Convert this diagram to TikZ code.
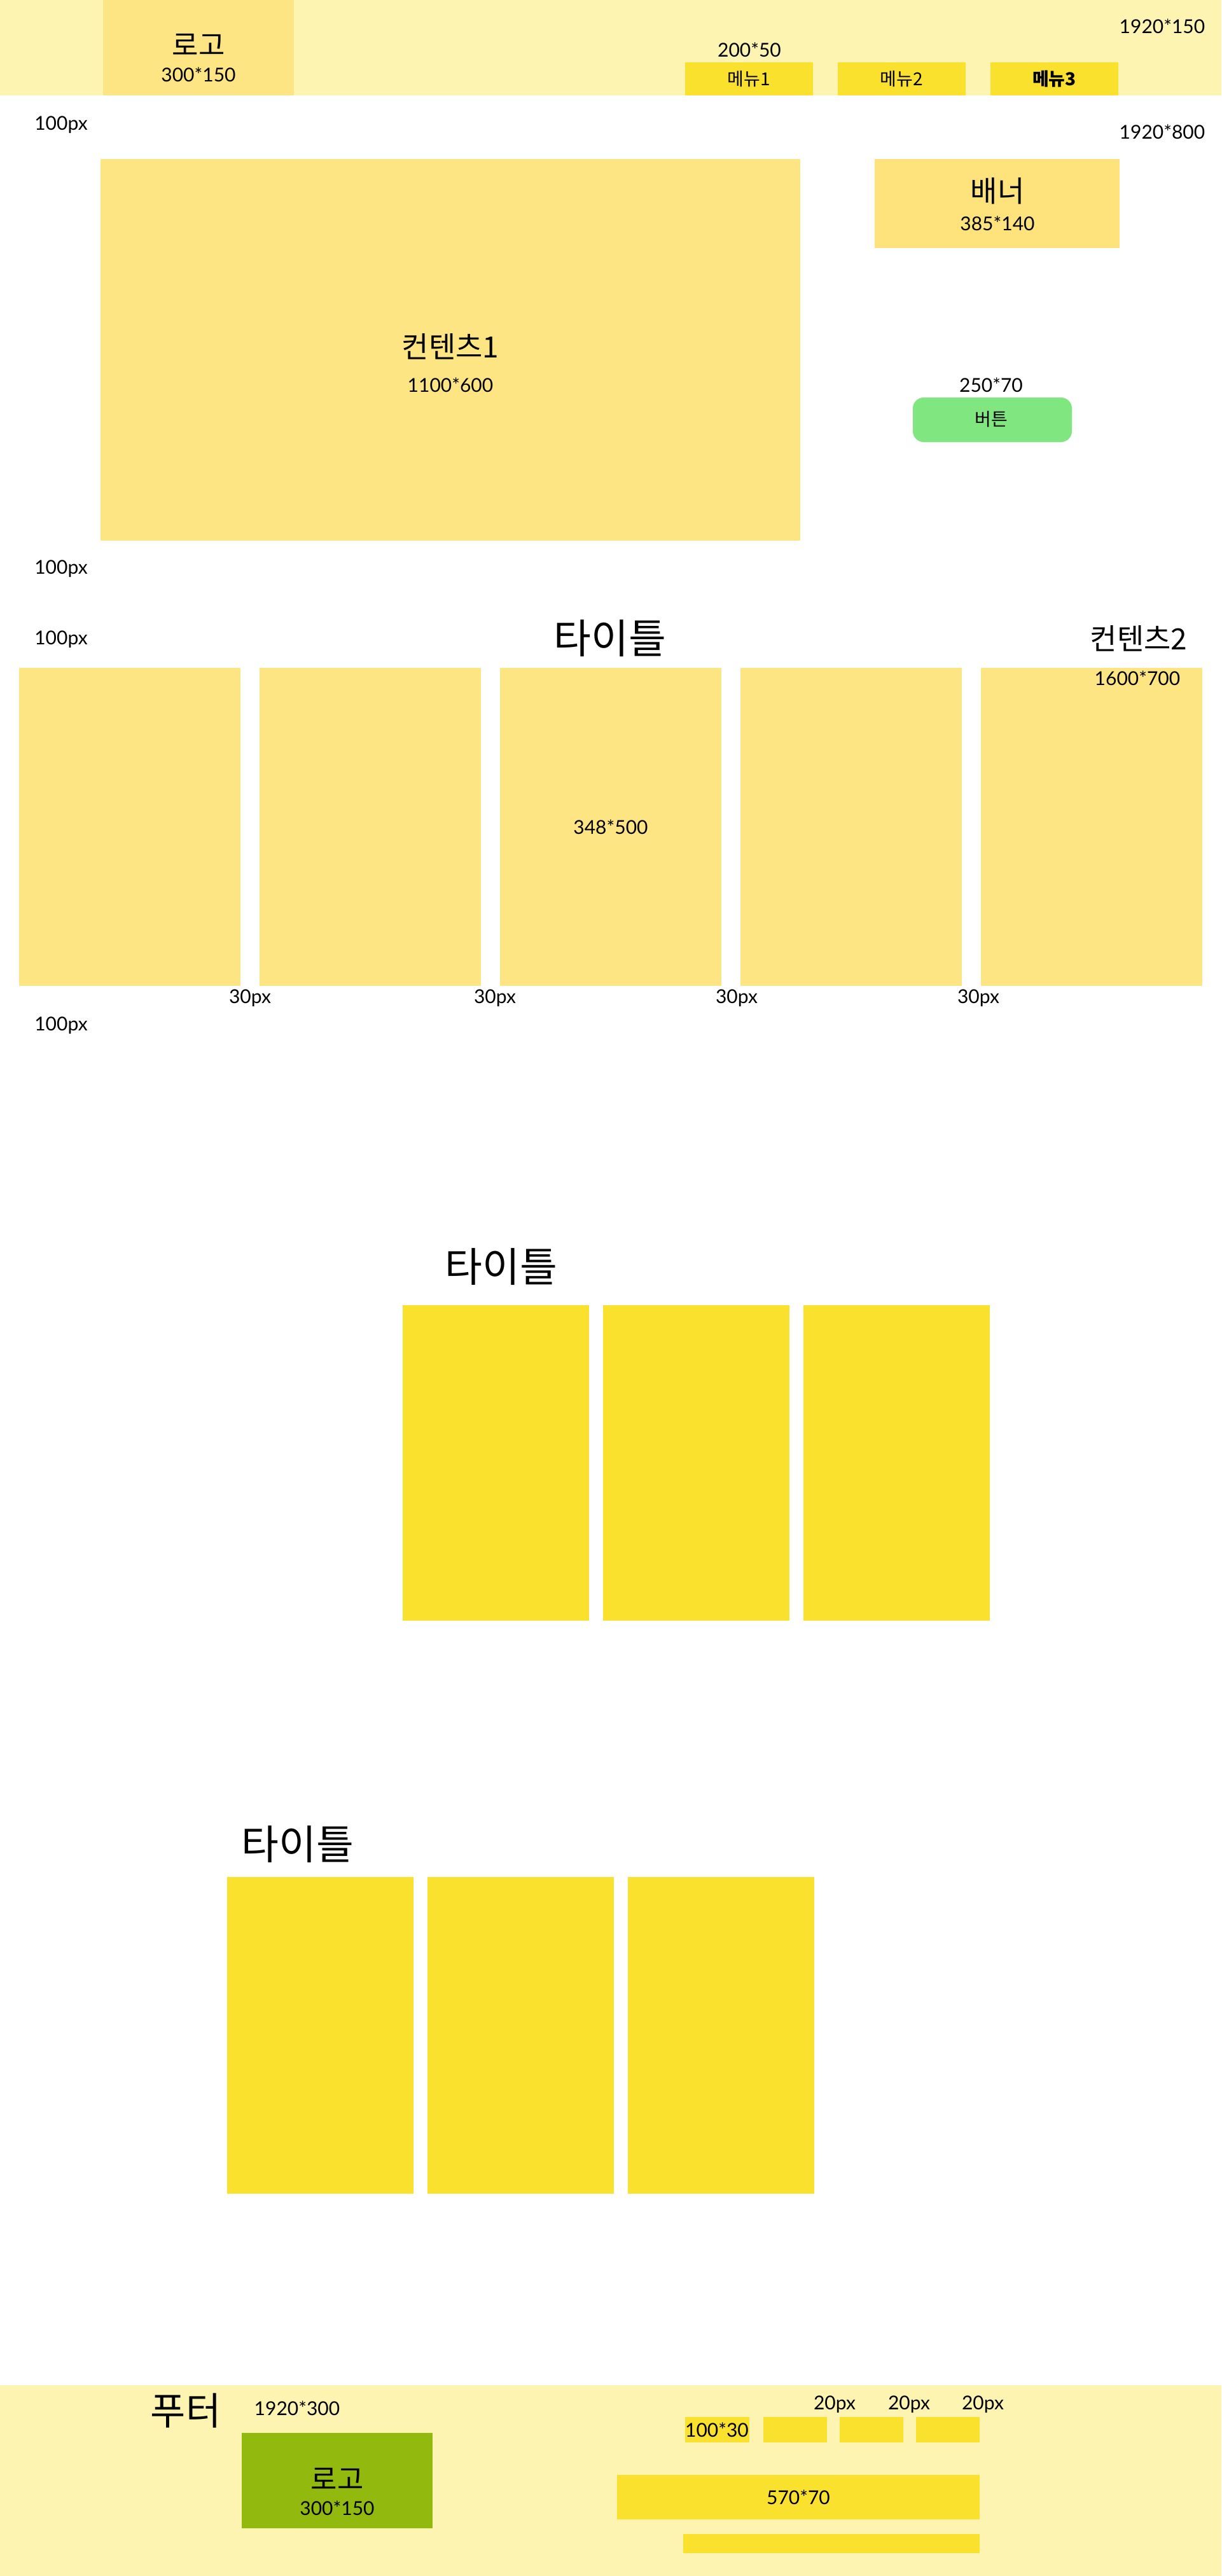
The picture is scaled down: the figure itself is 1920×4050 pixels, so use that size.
\documentclass[tikz,border=0pt]{standalone}
\usepackage{fontspec}
\setmainfont{Lato}
\newfontfamily\kr{Noto Sans CJK KR}
\definecolor{hdrbg}{HTML}{FDF4B1}
\definecolor{softY}{HTML}{FEE583}
\definecolor{bannerY}{HTML}{FEE27B}
\definecolor{brightY}{HTML}{F9E12E}
\definecolor{btnG}{HTML}{80E680}
\definecolor{logoG}{HTML}{92B90D}
\tikzset{
  box/.style={draw=none, inner sep=0, outer sep=0, rectangle, anchor=north west},
  lbl/.style={inner sep=0, font=\fontsize{30}{36}\selectfont},
  krmid/.style={inner sep=0, font=\kr\fontsize{46}{54}\selectfont},
  krbig/.style={inner sep=0, font=\kr\fontsize{64}{76}\selectfont},
  krsmall/.style={inner sep=0, font=\kr\fontsize{28}{34}\selectfont},
}
\newcommand{\bx}[6]{% name, x1, y1, x2, y2, fill
  \path[fill=#6] (#2,#3) rectangle (#4,#5);
  \coordinate (#1) at ({(#2+#4)/2},{(#3+#5)/2});}
\begin{document}
\begin{tikzpicture}[x=1pt,y=-1pt]
\useasboundingbox (0,0) rectangle (1920,4050);
\fill[white] (0,0) rectangle (1920,4050);

% ---------- header ----------
\bx{hdr}{0}{0}{1920}{150}{hdrbg}
\bx{hlogo}{162}{0}{462}{150}{softY}
\node[krmid, font=\kr\fontsize{45}{54}\selectfont] (hlogot) at (312,70) {로고};
\node[lbl] (hlogos) at (312,117) {300*150};
\node[lbl] (msize) at (1178,78) {200*50};
\bx{m1}{1077}{98}{1278}{150}{brightY}
\bx{m2}{1317}{98}{1518}{150}{brightY}
\bx{m3}{1557}{98}{1758}{150}{brightY}
\node[krsmall] (m1t) at (m1) {메뉴1};
\node[krsmall] (m2t) at (m2) {메뉴2};
\node[krsmall, font=\kr\bfseries\fontsize{28}{34}\selectfont] (m3t) at (m3) {메뉴3};
\node[lbl] (hsize) at (1827,41) {1920*150};

% ---------- section 1 ----------
\node[lbl] (p1) at (96,196) {100px};
\node[lbl] (s1size) at (1827,207) {1920*800};
\bx{c1}{158}{250}{1258}{850}{softY}
\node[krmid] (c1t) at (708,545) {컨텐츠1};
\node[lbl] (c1s) at (708,605) {1100*600};
\bx{ban}{1375}{250}{1760}{390}{bannerY}
\node[krmid] (bant) at (1568,300) {배너};
\node[lbl] (bans) at (1568,351) {385*140};
\node[lbl] (btns) at (1558,605) {250*70};
\fill[btnG, rounded corners=17pt] (1435,625) rectangle (1685,695);
\coordinate (btn) at (1560,660);
\node[krsmall] (btnt) at (1558,659) {버튼};
\node[lbl] (p2) at (96,894) {100px};

% ---------- section 2 ----------
\node[lbl] (p3) at (96,1005) {100px};
\node[krbig] (t1) at (959,1004) {타이틀};
\node[krmid] (c2t) at (1790,1004) {컨텐츠2};
\bx{k1}{30}{1050}{378}{1550}{softY}
\bx{k2}{408}{1050}{756}{1550}{softY}
\bx{k3}{786}{1050}{1134}{1550}{softY}
\bx{k4}{1164}{1050}{1512}{1550}{softY}
\bx{k5}{1542}{1050}{1890}{1550}{softY}
\node[lbl] (c2s) at (1788,1066) {1600*700};
\node[lbl] (k3s) at (960,1300) {348*500};
\node[lbl] (g1) at (393,1569) {30px};
\node[lbl] (g2) at (778,1569) {30px};
\node[lbl] (g3) at (1158,1569) {30px};
\node[lbl] (g4) at (1538,1569) {30px};
\node[lbl] (p4) at (96,1612) {100px};

% ---------- section 3 ----------
\node[krbig] (t2) at (788,1992) {타이틀};
\bx{a1}{633}{2052}{926}{2548}{brightY}
\bx{a2}{948}{2052}{1241}{2548}{brightY}
\bx{a3}{1263}{2052}{1556}{2548}{brightY}

% ---------- section 4 ----------
\node[krbig] (t3) at (468,2900) {타이틀};
\bx{b1}{357}{2951}{650}{3449}{brightY}
\bx{b2}{672}{2951}{965}{3449}{brightY}
\bx{b3}{987}{2951}{1280}{3449}{brightY}

% ---------- footer ----------
\bx{ftr}{0}{3750}{1920}{4050}{hdrbg}
\node[inner sep=0, font=\kr\fontsize{60}{70}\selectfont] (ftt) at (292,3790) {푸터};
\node[lbl] (fts) at (467,3786) {1920*300};
\bx{flogo}{380}{3825}{680}{3975}{logoG}
\node[krmid, font=\kr\fontsize{45}{54}\selectfont] (flogot) at (530,3897) {로고};
\node[lbl] (flogos) at (530,3943) {300*150};
\bx{s1}{1077}{3800}{1178}{3840}{brightY}
\bx{s2}{1200}{3800}{1300}{3840}{brightY}
\bx{s3}{1320}{3800}{1420}{3840}{brightY}
\bx{s4}{1440}{3800}{1540}{3840}{brightY}
\node[lbl] (s1t) at (1127,3820) {100*30};
\node[lbl] (d1) at (1312,3780) {20px};
\node[lbl] (d2) at (1429,3780) {20px};
\node[lbl] (d3) at (1545,3780) {20px};
\bx{wide}{970}{3891}{1540}{3961}{brightY}
\node[lbl] (widet) at (wide) {570*70};
\bx{bot}{1074}{3984}{1540}{4014}{brightY}
\end{tikzpicture}
\end{document}
